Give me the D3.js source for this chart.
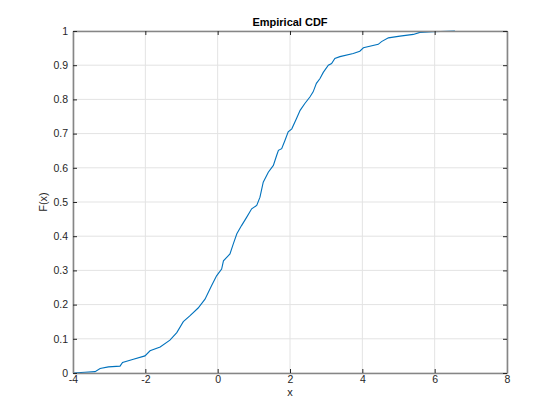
<!DOCTYPE html>
<html>
<head>
<meta charset="utf-8">
<script src="https://cdn.jsdelivr.net/npm/d3@7"></script>
<style>
  body { margin: 0; background: #fff; }
  text { font-family: "Liberation Sans", Arial, sans-serif; }
</style>
</head>
<body>
<script>
// traced points of the empirical CDF
const xs = [-4, -3.67, -3.39, -3.25, -3.02, -2.70, -2.63, -2.33, -2.01, -1.87, -1.59, -1.32, -1.13, -0.95,
  -0.77, -0.54, -0.35, -0.17, -0.03, 0.11, 0.16, 0.34, 0.43, 0.53, 0.66, 0.80, 0.94, 1.08, 1.17, 1.26,
  1.40, 1.54, 1.63, 1.68, 1.77, 1.86, 1.95, 2.05, 2.18, 2.28, 2.41, 2.55, 2.64, 2.73, 2.83, 2.92,
  3.06, 3.15, 3.24, 3.38, 3.75, 3.93, 4.03, 4.44, 4.53, 4.72, 5.04, 5.41, 5.59, 5.96, 6.56]
const fs = [0, 0.002, 0.004, 0.013, 0.018, 0.02, 0.031, 0.04, 0.05, 0.065, 0.076, 0.096, 0.118, 0.15,
  0.167, 0.19, 0.216, 0.255, 0.284, 0.304, 0.328, 0.348, 0.377, 0.407, 0.431, 0.455, 0.48, 0.49, 0.514, 0.558,
  0.587, 0.607, 0.636, 0.651, 0.656, 0.68, 0.705, 0.714, 0.744, 0.768, 0.788, 0.807, 0.822, 0.847, 0.861, 0.879,
  0.90, 0.905, 0.92, 0.925, 0.934, 0.941, 0.951, 0.961, 0.969, 0.98, 0.985, 0.99, 0.996, 0.998, 1.0]

const xTicks = [-4, -2, 0, 2, 4, 6, 8]
const yTicks = [0, 0.1, 0.2, 0.3, 0.4, 0.5, 0.6, 0.7, 0.8, 0.9, 1]

const w = 560
const h = 420
const mL = 73, mR = 507, mT = 31, mB = 373

const xScale = d3.scaleLinear().domain([-4, 8]).range([mL, mR])
const yScale = d3.scaleLinear().domain([0, 1]).range([mB, mT])

const svg = d3.select('body').append('svg')
    .attr('width', w)
    .attr('height', h)

// grid
svg.append('g')
    .selectAll('line')
    .data(xTicks)
    .enter()
    .append('line')
    .attr('x1', d => xScale(d)).attr('x2', d => xScale(d))
    .attr('y1', mT).attr('y2', mB)
    .attr('stroke', '#e3e3e3')
svg.append('g')
    .selectAll('line')
    .data(yTicks)
    .enter()
    .append('line')
    .attr('x1', mL).attr('x2', mR)
    .attr('y1', d => yScale(d)).attr('y2', d => yScale(d))
    .attr('stroke', '#e3e3e3')

// curve
const pts = xs.map((x, i) => [x, fs[i]])
svg.append('path')
    .datum(pts)
    .attr('fill', 'none')
    .attr('stroke', '#0072BD')
    .attr('stroke-width', 1.1)
    .attr('d', d3.line().x(d => xScale(d[0])).y(d => yScale(d[1])))

// axes (box with inner ticks on all sides), plain hyphen for negatives like matlab
const fmt = d => String(d)
function styleAxis(g) {
    g.select('.domain').attr('stroke', '#868686').attr('stroke-width', 1.6)
    g.selectAll('.tick line').attr('stroke', '#262626')
    g.selectAll('.tick text').attr('fill', '#262626').attr('font-size', 10.5)
        .attr('font-family', '"Liberation Sans", Arial, sans-serif')
}

svg.append('g')
    .attr('transform', `translate(0,${mB})`)
    .call(d3.axisBottom(xScale).tickValues(xTicks).tickSizeInner(-4).tickSizeOuter(0).tickPadding(3).tickFormat(fmt))
    .call(styleAxis)
svg.append('g')
    .attr('transform', `translate(0,${mT})`)
    .call(d3.axisTop(xScale).tickValues(xTicks).tickSizeInner(-4).tickSizeOuter(0).tickFormat(''))
    .call(styleAxis)
svg.append('g')
    .attr('transform', `translate(${mL},0)`)
    .call(d3.axisLeft(yScale).tickValues(yTicks).tickSizeInner(-4).tickSizeOuter(0).tickPadding(5).tickFormat(fmt))
    .call(styleAxis)
svg.append('g')
    .attr('transform', `translate(${mR},0)`)
    .call(d3.axisRight(yScale).tickValues(yTicks).tickSizeInner(-4).tickSizeOuter(0).tickFormat(''))
    .call(styleAxis)

// labels
svg.append('text')
    .attr('x', (mL + mR) / 2)
    .attr('y', 26)
    .attr('text-anchor', 'middle')
    .attr('font-size', 11)
    .attr('font-weight', 'bold')
    .attr('fill', '#000')
    .text('Empirical CDF')

svg.append('text')
    .attr('x', (mL + mR) / 2)
    .attr('y', 396)
    .attr('text-anchor', 'middle')
    .attr('font-size', 11)
    .attr('fill', '#262626')
    .text('x')

svg.append('text')
    .attr('transform', `translate(47,${(mT + mB) / 2}) rotate(-90)`)
    .attr('text-anchor', 'middle')
    .attr('font-size', 11)
    .attr('fill', '#262626')
    .text('F(x)')
</script>
</body>
</html>
